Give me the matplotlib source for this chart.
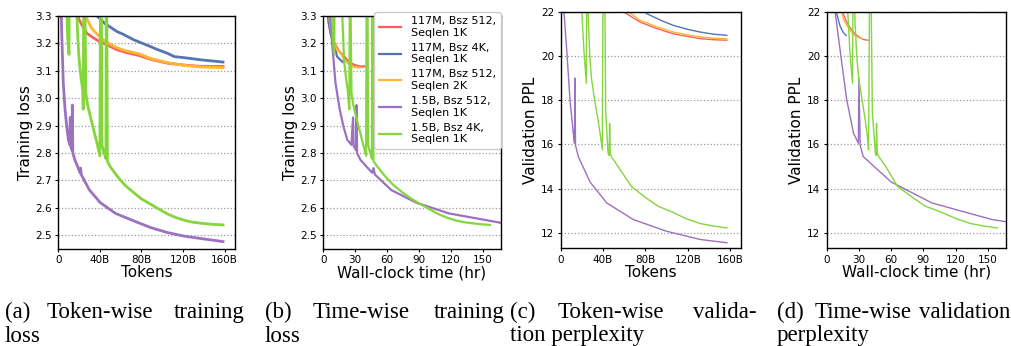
# -*- coding: utf-8 -*-
"""
Training loss / validation perplexity of GPT-2 runs, by tokens and by wall-clock time
"""

# Import Libraries -----------------------------------------------------------
import matplotlib.pyplot as plt

# Data ------------------------------------------------------------------------
# tokens in billions, time in hours
labels = ['117M, Bsz 512,\nSeqlen 1K', '117M, Bsz 4K,\nSeqlen 1K',
          '117M, Bsz 512,\nSeqlen 2K', '1.5B, Bsz 512,\nSeqlen 1K',
          '1.5B, Bsz 4K,\nSeqlen 1K']
colors = ['#f7605e', '#5574b4', '#ffb531', '#9b71c0', '#84d63b']

# training loss
red_tok = [17, 19.6, 22.7, 27.5, 33, 40.4, 45.3, 56, 64, 77.6, 89, 105, 121, 137.5, 158.5]
red_hr = [4.2, 4.8, 5.6, 6.8, 8.1, 9.9, 11.1, 13.8, 15.7, 19.1, 21.9, 25.8, 29.8, 33.8, 39.0]
red_loss = [3.36, 3.29, 3.267, 3.237, 3.222, 3.205, 3.197, 3.178, 3.168, 3.156, 3.142, 3.128, 3.121, 3.116, 3.116]

orange_tok = [24, 27.5, 32, 40.4, 45.3, 56, 64, 77.6, 89, 105, 121, 137.5, 158.5]
orange_hr = [5.2, 5.9, 6.9, 8.7, 9.7, 12.0, 13.8, 16.7, 19.1, 22.6, 26.0, 29.6, 34.1]
orange_loss = [3.36, 3.29, 3.255, 3.222, 3.207, 3.185, 3.174, 3.162, 3.145, 3.13, 3.12, 3.114, 3.112]

blue_tok = [33, 37.2, 45, 56.6, 61.5, 72.7, 89, 93.8, 105, 111.5, 121, 137.5, 158.5]
blue_hr = [3.8, 4.3, 5.2, 6.6, 7.1, 8.4, 10.3, 10.9, 12.2, 12.9, 14.0, 16.0, 18.4]
blue_loss = [3.34, 3.30, 3.272, 3.243, 3.235, 3.213, 3.188, 3.18, 3.164, 3.152, 3.148, 3.14, 3.132]

purple_tok = [2.6, 3.3, 4.8, 6.5, 8.1, 9.7, 11.0, 11.5, 12.0, 13.3, 13.5, 14.0, 16, 21,
              21.5, 22, 30, 40.4, 55, 73, 89, 105, 121, 137.5, 158.5]
purple_hr = [5.5, 7.5, 11.5, 15.5, 19, 22.5, 26.5, 28.0, 28.6, 30.8, 31.2, 31.8, 35, 46,
             47.3, 48.5, 64, 87.6, 118, 158, 192, 226, 260, 295, 340]
purple_loss = [3.35, 3.237, 3.055, 2.958, 2.897, 2.849, 2.83, 2.93, 2.825, 2.81, 2.975, 2.80,
               2.775, 2.728, 2.745, 2.722, 2.665, 2.619, 2.58, 2.552, 2.528, 2.51, 2.497,
               2.488, 2.477]

green_tok = [7.5, 9.0, 10.3, 10.6, 17.0, 18.5, 20.0, 22.0, 23.5, 24.0, 24.5, 25.5, 26.5, 28.0,
             31.0, 34.0, 37.0, 40.0, 40.6, 41.4, 42.0, 44.0, 45.8, 46.2, 46.6, 47.2, 50,
             56.6, 64, 72.7, 80, 89, 97, 105, 113, 121, 129, 137.5, 148, 158.5]
green_hr = [7.5, 9.0, 10.3, 10.6, 17.0, 18.5, 19.5, 21.5, 23.0, 24.5, 25.0, 25.5, 26.5, 28.0,
            31.0, 34.0, 37.0, 40.3, 40.8, 41.6, 42.2, 44.2, 45.8, 46.2, 46.6, 47.2, 51,
            58, 66, 75, 83, 92, 100, 108, 116, 124, 132, 140, 149, 157]
green_loss = [3.40, 3.22, 3.16, 3.40, 3.40, 3.24, 3.14, 3.07, 3.03, 2.96, 3.40, 3.40, 3.02,
              2.98, 2.93, 2.885, 2.84, 2.79, 3.40, 3.40, 2.83, 2.80, 2.78, 3.40, 3.40, 2.77,
              2.75, 2.716, 2.683, 2.655, 2.633, 2.613, 2.595, 2.578, 2.565, 2.555, 2.548,
              2.544, 2.54, 2.538]

# validation perplexity
red_vtok = [50, 59.2, 75, 90, 106.4, 120, 131.7, 145, 156.9]
red_vhr = [12.3, 14.6, 18.5, 22.1, 26.2, 29.5, 32.4, 35.7, 38.6]
red_ppl = [22.6, 22.0, 21.53, 21.25, 21.0, 20.88, 20.78, 20.73, 20.71]

orange_vtok = [52, 64, 75, 90, 106.4, 120, 131.7, 145, 156.9]
orange_vhr = [11.2, 13.8, 16.1, 19.4, 22.9, 25.8, 28.3, 31.2, 33.7]
orange_ppl = [22.6, 22.0, 21.61, 21.33, 21.08, 20.95, 20.86, 20.8, 20.78]

blue_vtok = [70, 81.3, 95, 106.4, 120, 131.7, 145, 156.9]
blue_vhr = [8.1, 9.4, 11.0, 12.3, 13.9, 15.3, 16.8, 18.2]
blue_ppl = [22.5, 21.91, 21.6, 21.38, 21.2, 21.08, 20.98, 20.93]

purple_vtok = [2.5, 3.1, 5.7, 8.8, 11.9, 13.0, 13.5, 14.0, 16.6, 27.7, 43.5, 68.6, 100, 131.7, 156.9]
purple_vhr = [5.5, 7.8, 12.5, 18.7, 25, 29.5, 30.0, 31.2, 34, 60, 98, 154, 225, 296, 350]
purple_ppl = [23.5, 22.0, 20.26, 18.0, 16.5, 16.05, 19.0, 15.95, 15.45, 14.3, 13.35, 12.6,
              12.07, 11.7, 11.55]

green_vtok = [18.5, 20.1, 22.0, 24.2, 24.6, 25.4, 26.2, 27.5, 28.9, 32, 35.3, 37.5, 39.3,
              40.0, 41.5, 42.5, 44.7, 45.8, 46.2, 46.8, 47.8, 54.2, 66.7, 80, 92, 105, 118,
              131.7, 145, 156.9]
green_vhr = [18.5, 19.7, 21.6, 24.0, 24.6, 25.6, 26.4, 28.0, 29.6, 33, 35.9, 37.8, 39.0,
             40.0, 41.2, 42.5, 45.3, 46.0, 46.4, 47.0, 48.4, 55, 66, 80, 92, 106, 120,
             134, 147, 159]
green_ppl = [23.0, 21.9, 20.2, 18.76, 23.5, 23.5, 21.5, 20.0, 19.05, 18.0, 17.1, 16.4,
             15.75, 23.5, 23.5, 17.5, 15.6, 15.5, 16.95, 15.6, 15.45, 15.0, 14.1, 13.6, 13.2,
             12.95, 12.65, 12.42, 12.3, 12.22]

# Build Plot ------------------------------------------------------------------
W, H = 1011, 346
fig = plt.figure(figsize=(W / 100, H / 100), dpi=100)


def add_ax(left, right, top, bottom):
    return fig.add_axes([left / W, 1 - bottom / H, (right - left) / W, (bottom - top) / H])


ax_a = add_ax(58.3, 235, 16, 249)
ax_b = add_ax(323.3, 500.7, 16, 249)
ax_c = add_ax(560.7, 740.7, 11.7, 248.3)
ax_d = add_ax(826.7, 1006, 11.7, 248.3)

train_tok = [red_tok, blue_tok, orange_tok, purple_tok, green_tok]
train_hr = [red_hr, blue_hr, orange_hr, purple_hr, green_hr]
train_loss = [red_loss, blue_loss, orange_loss, purple_loss, green_loss]
val_tok = [red_vtok, blue_vtok, orange_vtok, purple_vtok, green_vtok]
val_hr = [red_vhr, blue_vhr, orange_vhr, purple_vhr, green_vhr]
val_ppl = [red_ppl, blue_ppl, orange_ppl, purple_ppl, green_ppl]

for i in range(5):
    ax_a.plot(train_tok[i], train_loss[i], color=colors[i], lw=2.0)
    ax_b.plot(train_hr[i], train_loss[i], color=colors[i], lw=1.6, label=labels[i])
    ax_c.plot(val_tok[i], val_ppl[i], color=colors[i], lw=1.0)
    ax_d.plot(val_hr[i], val_ppl[i], color=colors[i], lw=1.0)

for ax in [ax_a, ax_b]:
    ax.set_ylim(2.45, 3.3)
    ax.set_yticks([2.5, 2.6, 2.7, 2.8, 2.9, 3.0, 3.1, 3.2, 3.3])
    ax.set_yticklabels(['2.5', '2.6', '2.7', '2.8', '2.9', '3.0', '3.1', '3.2', '3.3'])
    ax.set_ylabel('Training loss', fontsize=11, labelpad=2)
for ax in [ax_c, ax_d]:
    ax.set_ylim(11.3, 22)
    ax.set_yticks([12, 14, 16, 18, 20, 22])
    ax.set_ylabel('Validation PPL', fontsize=11, labelpad=2)
for ax in [ax_a, ax_c]:
    ax.set_xlim(0, 170)
    ax.set_xticks([0, 40, 80, 120, 160])
    ax.set_xticklabels(['0', '40B', '80B', '120B', '160B'])
    ax.set_xlabel('Tokens', fontsize=11, labelpad=0)
for ax in [ax_b, ax_d]:
    ax.set_xlim(0, 167)
    ax.set_xticks([0, 30, 60, 90, 120, 150])
    ax.set_xlabel('Wall-clock time (hr)', fontsize=11, labelpad=0)

for ax in [ax_a, ax_b, ax_c, ax_d]:
    ax.yaxis.grid(True, linestyle=':', color='#999999', lw=0.9)
    ax.tick_params(labelsize=7.5, length=2, pad=2.5)
    for s in ax.spines.values():
        s.set_linewidth(1.0)

ax_b.legend(loc='upper right', bbox_to_anchor=(1.0, 1.018), borderaxespad=0,
            fontsize=8, labelspacing=0.45, handlelength=2.0, handletextpad=0.9,
            framealpha=1, edgecolor='#cccccc')

# Captions (justified by hand)
cap = dict(family='Liberation Serif', fontsize=16.5, va='baseline')
y1, y2 = 1 - 318 / H, 1 - 341.5 / H
fig.text(5 / W, y1, '(a)', ha='left', **cap)
fig.text(46.7 / W, y1, 'Token-wise', ha='left', **cap)
fig.text(245 / W, y1, 'training', ha='right', **cap)
fig.text(5 / W, y2, 'loss', ha='left', **cap)
fig.text(265 / W, y1, '(b)', ha='left', **cap)
fig.text(313 / W, y1, 'Time-wise', ha='left', **cap)
fig.text(505 / W, y1, 'training', ha='right', **cap)
fig.text(265 / W, y2, 'loss', ha='left', **cap)
fig.text(510 / W, y1, '(c)', ha='left', **cap)
fig.text(558 / W, y1, 'Token-wise', ha='left', **cap)
fig.text(757 / W, y1, 'valida-', ha='right', **cap)
fig.text(510 / W, y2, 'tion perplexity', ha='left', **cap)
fig.text(777 / W, y1, '(d)', ha='left', **cap)
fig.text(815 / W, y1, 'Time-wise', ha='left', **cap)
fig.text(1010 / W, y1, 'validation', ha='right', **cap)
fig.text(777 / W, y2, 'perplexity', ha='left', **cap)

# Save the figure
plt.savefig('out.png', dpi=100)
